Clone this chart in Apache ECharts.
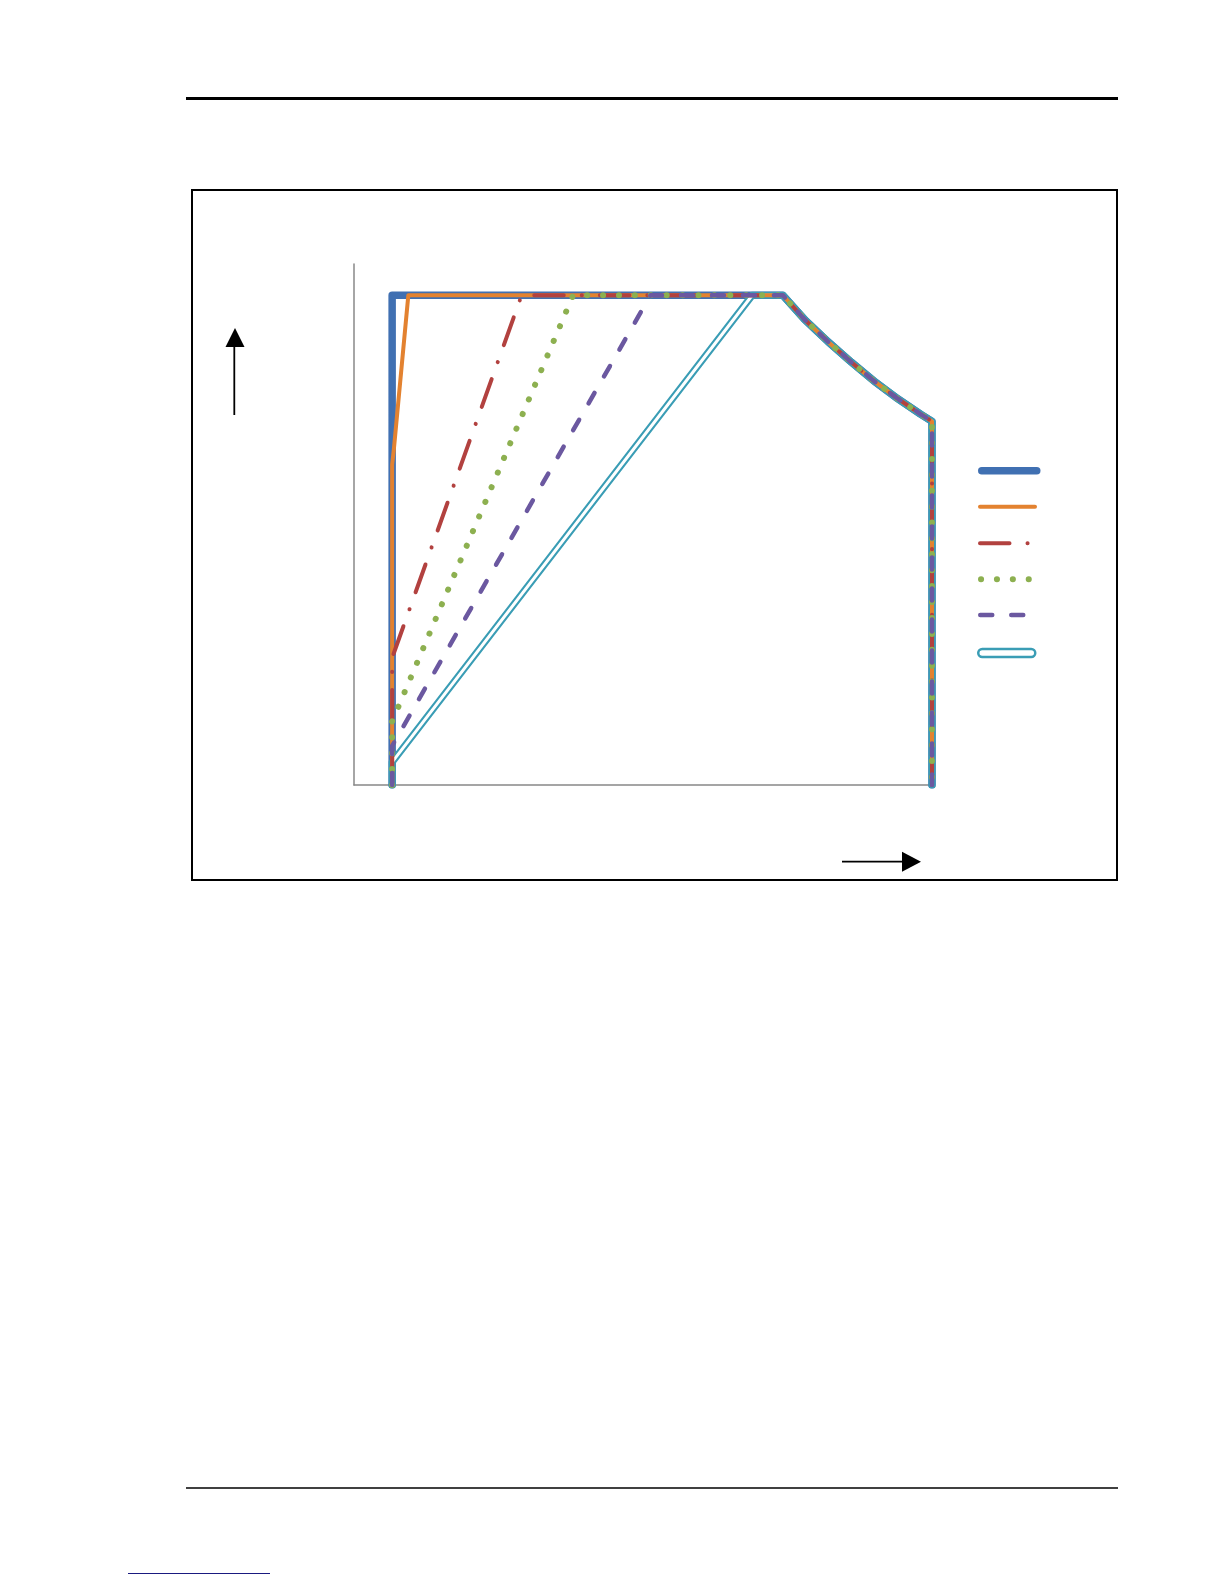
<!DOCTYPE html>
<html>
<head>
<meta charset="utf-8">
<script src="https://cdn.jsdelivr.net/npm/echarts@6/dist/echarts.min.js"></script>
<style>
html,body{margin:0;padding:0;background:#fff;}
#chart{width:1224px;height:1584px;}
</style>
</head>
<body>
<div id="chart"></div>
<script>
// ---- data (axis units 0..100 on both axes) ----
const sharedTail = [[74.2,94.0],[78,89.3],[82,85.1],[86,81.2],[90,77.5],[94,74.2],[98,71.2],[100,69.8],[100,0]];
const blueLead   = [[6.6,0],[6.6,94.0]];
const orangeLead = [[6.6,0],[6.6,61.5],[6.9,64.5],[9.4,94.0]];
const redLead    = [[6.6,0],[6.6,24.4],[29.0,94.0]];
const greenLead  = [[6.6,0],[6.6,12.2],[37.9,94.0]];
const purpleLead = [[6.6,0],[6.6,7.5],[51.3,94.0]];
const tealLead   = [[6.6,0],[6.6,4.4],[68.9,94.0]];
const seriesNames = ['S1','S2','S3','S4','S5','S6'];

const C = {blue:'#4070B2', orange:'#E38230', red:'#B2413F', green:'#8DB050', purple:'#6B58A0', teal:'#3A9DB5'};

const chart = echarts.init(document.getElementById('chart'), null, {renderer:'canvas'});

function ln(name, lead, color, width, type, z) {
  return {
    name: name, type: 'line', data: lead.concat(sharedTail), symbol: 'none', z: z,
    lineStyle: {color: color, width: width, type: type, cap: 'round', join: 'round'},
    itemStyle: {color: color}, emphasis: {disabled: true}, silent: true
  };
}

const legendCenters = [470.7, 506.7, 543.3, 579.3, 615, 651.7];
const legendWidths = [7.5, 4, 4, 6, 4.5, 0];
const legends = seriesNames.map((n, i) => {
  const base = {
    data: [n], orient: 'vertical', left: 978, padding: 0, selectedMode: false,
    itemWidth: 55, itemHeight: 14, top: legendCenters[i] - 7,
    formatter: () => '', textStyle: {fontSize: 6}, itemGap: 0
  };
  if (i < 5) {
    base.itemStyle = {opacity: 0};
    base.lineStyle = {width: legendWidths[i]};
  } else {
    base.icon = 'path://M4,0 L53,0 A4,4 0 0 1 53,8 L4,8 A4,4 0 0 1 4,0 Z';
    base.itemHeight = 8;
    base.itemWidth = 57;
    base.left = 977;
    base.top = legendCenters[i] - 4;
    base.itemStyle = {color: '#fff', borderColor: C.teal, borderWidth: 2.5, opacity: 1};
  }
  return base;
});

const option = {
  animation: false,
  backgroundColor: '#fff',
  grid: {left: 354, top: 264, width: 578, height: 521, containLabel: false},
  xAxis: {type: 'value', min: 0, max: 100,
    axisLine: {show: true, lineStyle: {color: '#888', width: 1.5}},
    axisTick: {show: false}, axisLabel: {show: false}, splitLine: {show: false}},
  yAxis: {type: 'value', min: 0, max: 100,
    axisLine: {show: true, lineStyle: {color: '#888', width: 1.5}},
    axisTick: {show: false}, axisLabel: {show: false}, splitLine: {show: false}},
  legend: legends,
  series: [
    ln('S1', blueLead, C.blue, 7.5, 'solid', 2),
    ln('S6', tealLead, C.teal, 7.2, 'solid', 3),
    ln('S6core', tealLead, '#ffffff', 3, 'solid', 4),
    ln('S2', orangeLead, C.orange, 4, 'solid', 5),
    ln('S3', redLead, C.red, 4, [29.5, 18, 0.1, 18], 6),
    ln('S4', greenLead, C.green, 6, [0.1, 15.8], 7),
    ln('S5', purpleLead, C.purple, 4.5, [12, 19], 8)
  ],
  graphic: [
    {type:'line', silent:true, shape:{x1:186,y1:98.5,x2:1118,y2:98.5}, style:{stroke:'#000', lineWidth:3}},
    {type:'rect', silent:true, shape:{x:192,y:190,width:925,height:690}, style:{fill:null, stroke:'#000', lineWidth:2}},
    {type:'line', silent:true, shape:{x1:186,y1:1488,x2:1118,y2:1488}, style:{stroke:'#000', lineWidth:1.3}},
    {type:'line', silent:true, shape:{x1:128,y1:1573.5,x2:270,y2:1573.5}, style:{stroke:'#1a1a80', lineWidth:1}},
    // up arrow
    {type:'line', silent:true, shape:{x1:234.3,y1:415,x2:234.3,y2:345}, style:{stroke:'#000', lineWidth:1.8}},
    {type:'polygon', silent:true, shape:{points:[[235,328],[225.5,347],[244.5,347]]}, style:{fill:'#000'}},
    // right arrow
    {type:'line', silent:true, shape:{x1:842,y1:861.7,x2:903,y2:861.7}, style:{stroke:'#000', lineWidth:1.8}},
    {type:'polygon', silent:true, shape:{points:[[921,861.7],[902,851.7],[902,871.7]]}, style:{fill:'#000'}}
  ]
};
chart.setOption(option);
</script>
</body>
</html>
